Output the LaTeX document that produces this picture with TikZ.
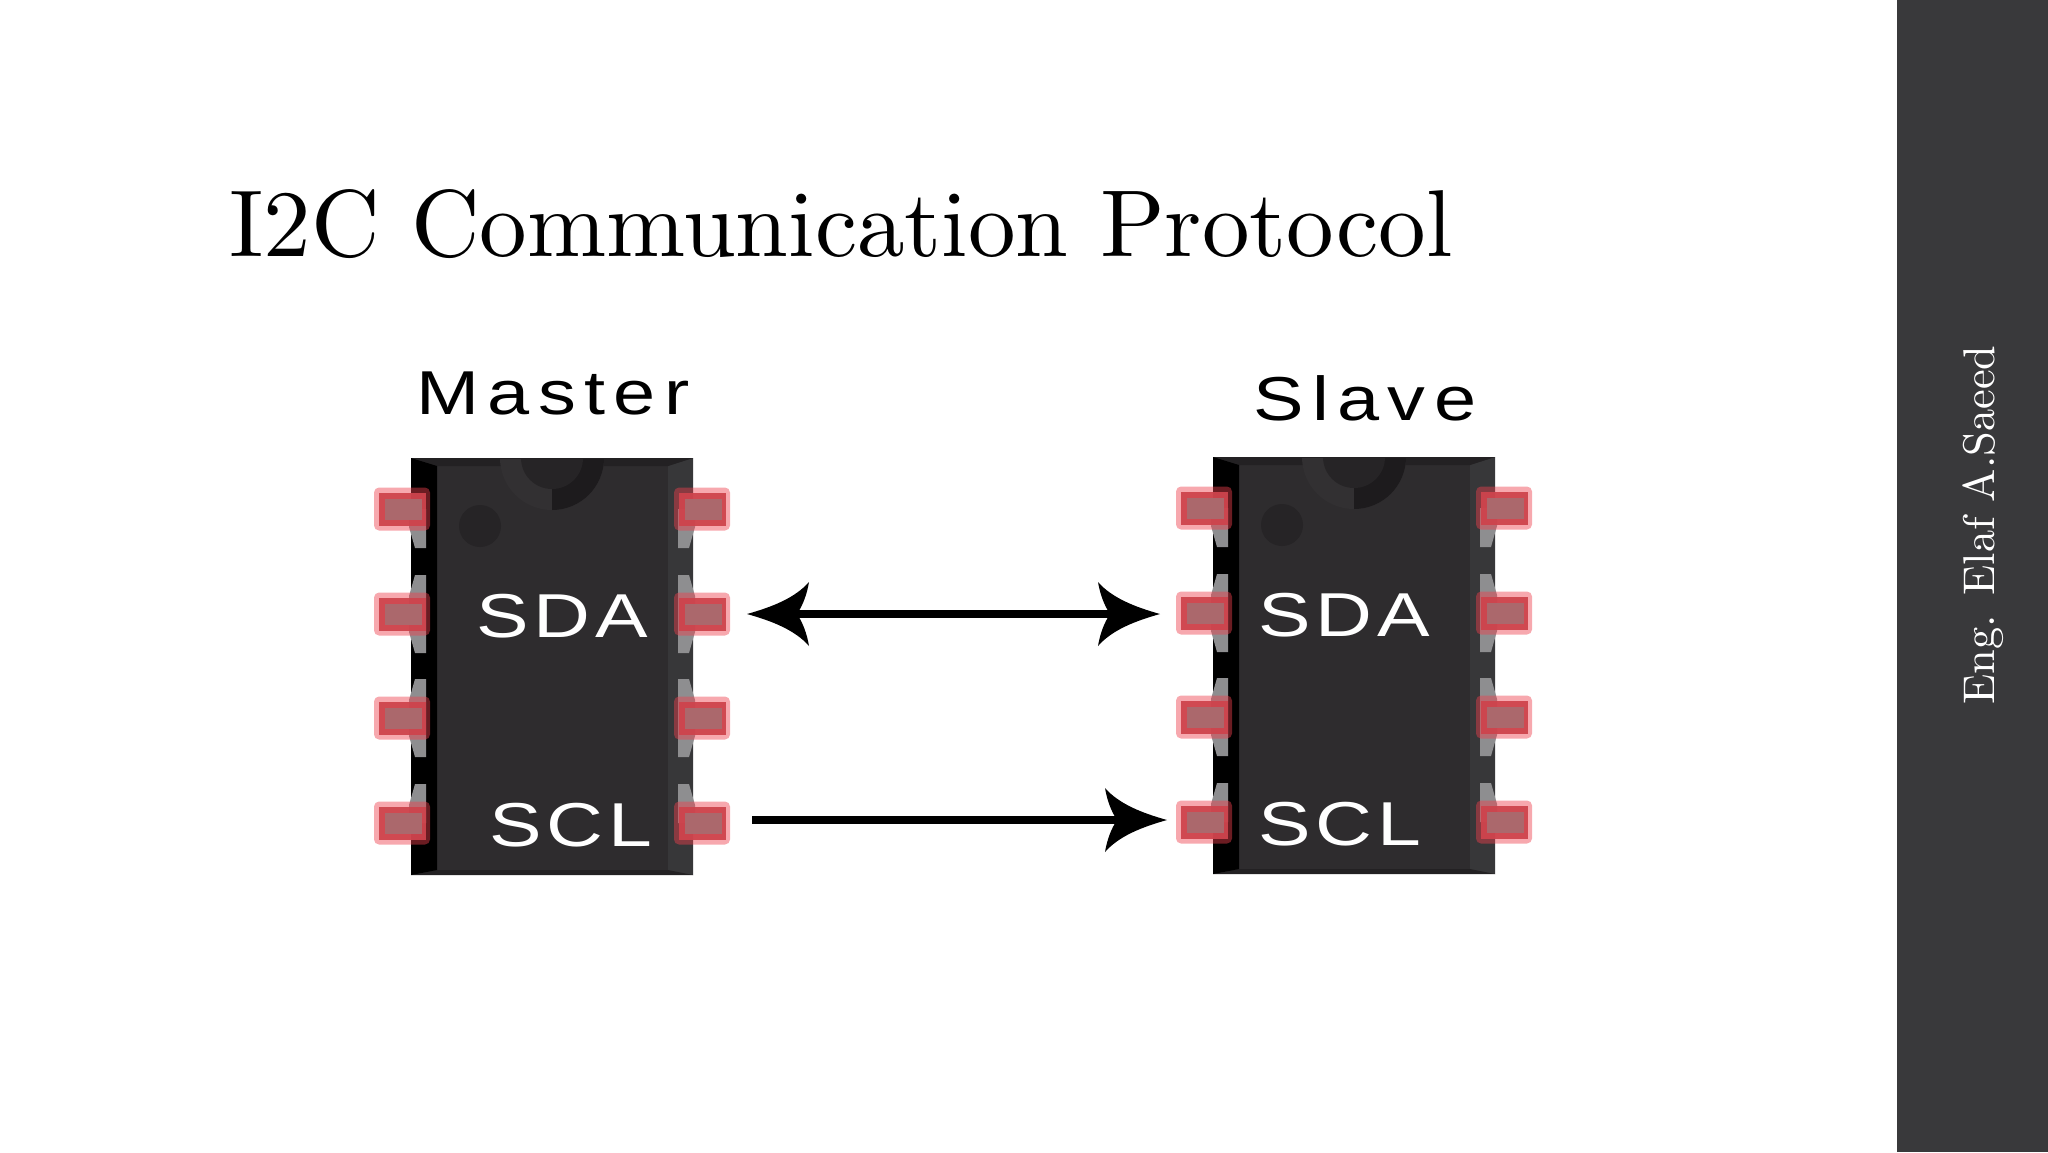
\documentclass[tikz,border=0pt]{standalone}
\usepackage{fontspec}
\newfontfamily\chipfont[LetterSpace=6]{Liberation Sans}
\newfontfamily\rolefont[LetterSpace=11]{Liberation Sans}
\newfontfamily\lmten[Extension=.otf]{lmroman10-regular}
\definecolor{barc}{HTML}{39393B}
\definecolor{body}{HTML}{2E2C2E}
\definecolor{bevR}{HTML}{373739}
\definecolor{bevT}{HTML}{232123}
\definecolor{notchL}{HTML}{323032}
\definecolor{notchR}{HTML}{1D1B1D}
\definecolor{notchC}{HTML}{262426}
\definecolor{lead}{HTML}{8E8E90}
\definecolor{glow}{HTML}{EE3F4C}
\definecolor{padM}{HTML}{CE444D}
\definecolor{padC}{HTML}{AB686C}
\tikzset{
  x=0.5pt,y=-0.5pt,
  titletext/.style={anchor=base,inner sep=0,text=black,font=\lmten\fontsize{47.5}{52}\selectfont},
  chiplabel/.style={anchor=base,inner sep=0,text=white,font=\chipfont\fontsize{31}{36}\selectfont,xscale=1.27},
  rolelabel/.style={anchor=base,inner sep=0,text=black,font=\rolefont\fontsize{31}{36}\selectfont,xscale=1.22},
  sidetext/.style={inner sep=0,text=white,rotate=90,font=\lmten\fontsize{22.2}{26}\selectfont},
  link/.style={line width=4.4pt,black},
  headfill/.style={fill=black,draw=none}
}
\newcommand{\padglyph}[2]{%
  \fill[glow,opacity=.45,rounded corners=2.5pt] (#2,#1-21.5) rectangle (#2+56,#1+21.5);
  \fill[padM,opacity=.95] (#2+5,#1-16.5) rectangle (#2+52,#1+16.5);
  \fill[padC] (#2+11,#1-10.5) rectangle (#2+48,#1+10.5);
}
\newcommand{\leadup}[4]{\fill[lead] (#3,#1) -- (#3,#1-39) -- (#2,#1-39) -- (#4,#1-18) -- (#4,#1) -- cycle;}
\newcommand{\leaddown}[4]{\fill[lead] (#3,#1) -- (#3,#1+39) -- (#2,#1+39) -- (#4,#1+18) -- (#4,#1) -- cycle;}
\newcommand{\chipbody}{%
  \fill[body] (411,458) rectangle (693,875);
  \fill[bevR] (693,458) -- (668,466) -- (668,871) -- (693,875) -- cycle;
  \fill[bevT] (411,458) -- (693,458) -- (668,466) -- (437,466) -- cycle;
  \fill[bevT] (411,875) -- (693,875) -- (668,870) -- (437,870) -- cycle;
  \fill[black] (411,458) -- (437,466) -- (437,870) -- (411,875) -- cycle;
  \begin{scope}
    \clip (500,459) rectangle (610,520);
    \fill[notchL] (552,458) circle[radius=52];
    \fill[notchR] (552,458) -- (552,510) arc[start angle=90,end angle=0,radius=52] -- cycle;
    \fill[notchC] (552,458) circle[radius=31];
  \end{scope}
  \fill[notchC] (480,526) circle[radius=21];
  \leaddown{509}{415}{426}{409}
  \leadup{614}{415}{426}{409}\leaddown{614}{415}{426}{409}
  \leadup{718}{415}{426}{409}\leaddown{718}{415}{426}{409}
  \leadup{823}{415}{426}{409}
  \leaddown{509}{689}{678}{695}
  \leadup{614}{689}{678}{695}\leaddown{614}{689}{678}{695}
  \leadup{718}{689}{678}{695}\leaddown{718}{689}{678}{695}
  \leadup{823}{689}{678}{695}
  \foreach \r in {509,614,718,823}{\padglyph{\r}{374}\padglyph{\r}{674}}
}
\newcommand{\headshape}{\path[headfill] (0,0) .. controls (-25,-7) and (-48,-16) .. (-62,-32) .. controls (-60,-20) and (-56,-9) .. (-50,0) .. controls (-56,9) and (-60,20) .. (-62,32) .. controls (-48,16) and (-25,7) .. (0,0) -- cycle;}
\newcommand{\headright}[1]{\begin{scope}[shift={(#1)}]\headshape\end{scope}}
\newcommand{\headleft}[1]{\begin{scope}[shift={(#1)},xscale=-1]\headshape\end{scope}}
\begin{document}
\begin{tikzpicture}
\useasboundingbox (0,0) rectangle (2048,1152);
\fill[white] (0,0) rectangle (2048,1152);
\fill[barc] (1897,0) rectangle (2048,1152);
\node[titletext] (title) at (841,256) {I2C Communication Protocol};
\node[sidetext] (author) at (1983,525) {Eng. Elaf A.Saeed};

\chipbody
\begin{scope}[shift={(802,-1)}]
  \chipbody
\end{scope}

\node[rolelabel] (master) at (553,414) {Master};
\node[rolelabel] (slave) at (1365,420) {Slave};
\node[chiplabel] (msda) at (562,637) {SDA};
\node[chiplabel] (mscl) at (571,846) {SCL};
\node[chiplabel] (ssda) at (1344,636) {SDA};
\node[chiplabel] (sscl) at (1340,845) {SCL};

\coordinate (sdaL) at (747,614);
\coordinate (sdaR) at (1160,614);
\coordinate (sclL) at (752,820);
\coordinate (sclR) at (1167,820);
\draw[link] ([xshift=22pt]sdaL) -- ([xshift=-22pt]sdaR);
\draw[link] (sclL) -- ([xshift=-22pt]sclR);
\headleft{sdaL}
\headright{sdaR}
\headright{sclR}
\end{tikzpicture}
\end{document}
